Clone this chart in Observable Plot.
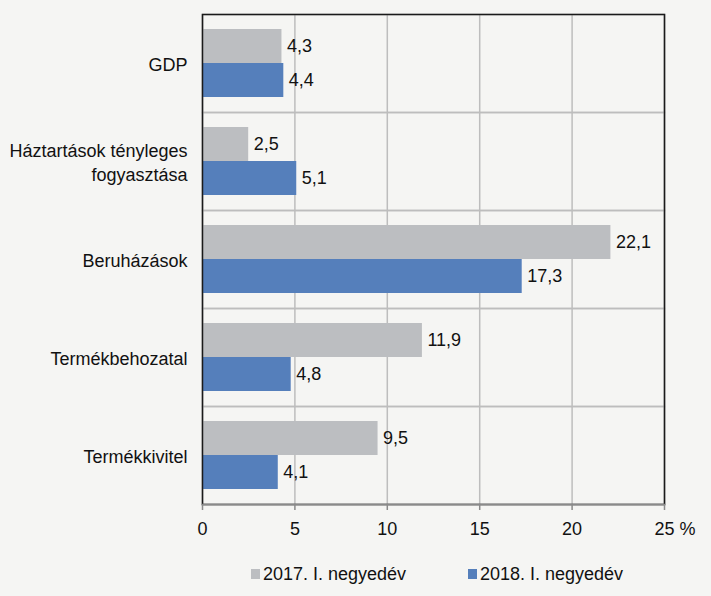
<!DOCTYPE html>
<html>
<head>
<meta charset="utf-8">
<script src="https://cdn.jsdelivr.net/npm/d3@7"></script>
<script src="https://cdn.jsdelivr.net/npm/@observablehq/plot@0.6"></script>
<style>
  html, body { margin: 0; padding: 0; background: #f5f5f3; }
  body { width: 711px; height: 596px; overflow: hidden; font-family: "Liberation Sans", Arial, sans-serif; color: #111; }
  #legend { position: relative; height: 48px; font-size: 18px; }
  .item { position: absolute; top: 15px; display: flex; align-items: center; line-height: 22px; }
  .sw { width: 9px; height: 10px; margin-right: 3px; }
</style>
</head>
<body>
<div id="chart"></div>
<div id="legend"></div>
<script>
const categories = ["GDP", "Háztartások tényleges\nfogyasztása", "Beruházások", "Termékbehozatal", "Termékkivitel"];
const series = ["2017. I. negyedév", "2018. I. negyedév"];
const values2017 = [4.3, 2.5, 22.1, 11.9, 9.5];
const values2018 = [4.4, 5.1, 17.3, 4.8, 4.1];
const xTicks = [0, 5, 10, 15, 20, 25];
const unitLabel = ["%"];
const colors = ["#bcbec1", "#557fbb"];

const data = categories.flatMap((c, i) => [
  {cat: c, s: series[0], v: values2017[i]},
  {cat: c, s: series[1], v: values2018[i]}
]);
const fmt = v => v.toFixed(1).replace(".", ",");

const chart = Plot.plot({
  width: 711,
  height: 548,
  marginLeft: 202,
  marginRight: 47,
  marginTop: 14,
  marginBottom: 44,
  style: {background: "transparent", fontFamily: "'Liberation Sans', Arial, sans-serif", fontSize: "18px", color: "#111"},
  x: {domain: [xTicks[0], xTicks[xTicks.length - 1]]},
  y: {domain: series, paddingInner: 0, paddingOuter: 0.41, axis: null},
  fy: {domain: categories, padding: 0, label: null},
  color: {domain: series, range: colors},
  marks: [
    Plot.gridX({ticks: xTicks, stroke: "#bdbdbd", strokeOpacity: 1, strokeWidth: 1.5}),
    Plot.frame({stroke: "#bdbdbd", strokeWidth: 1.5}),
    Plot.barX(data, {x: "v", y: "s", fy: "cat", fill: "s"}),
    Plot.frame({facet: "super", stroke: "#1a1a1a", strokeWidth: 1.5}),
    Plot.frame({facet: "super", anchor: "bottom", stroke: "#8a8a8a", strokeWidth: 1.5}),
    Plot.text(data, {x: "v", y: "s", fy: "cat", text: d => fmt(d.v), textAnchor: "start", dx: 5, fill: "#111", fontSize: 18}),
    Plot.axisX({ticks: xTicks, tickSize: 6, tickPadding: 12, stroke: "#8a8a8a", strokeWidth: 1.5, fontSize: 18, label: null, tickFormat: d => String(d)}),
    Plot.text(unitLabel, {facet: "super", text: d => d, frameAnchor: "bottom-right", textAnchor: "start", lineAnchor: "top", dx: 15, dy: 18, fontSize: 18, fill: "#111"}),
    Plot.axisFy({anchor: "left", tickSize: 0, tickPadding: 15, fontSize: 18, lineHeight: 1.35, label: null})
  ]
});
document.getElementById("chart").appendChild(chart);

const legend = document.getElementById("legend");
const lefts = [251, 468];
series.forEach((s, i) => {
  const it = document.createElement("div");
  it.className = "item";
  it.style.left = lefts[i] + "px";
  const sw = document.createElement("span");
  sw.className = "sw";
  sw.style.background = colors[i];
  const tx = document.createElement("span");
  tx.textContent = s;
  it.appendChild(sw);
  it.appendChild(tx);
  legend.appendChild(it);
});
</script>
</body>
</html>
